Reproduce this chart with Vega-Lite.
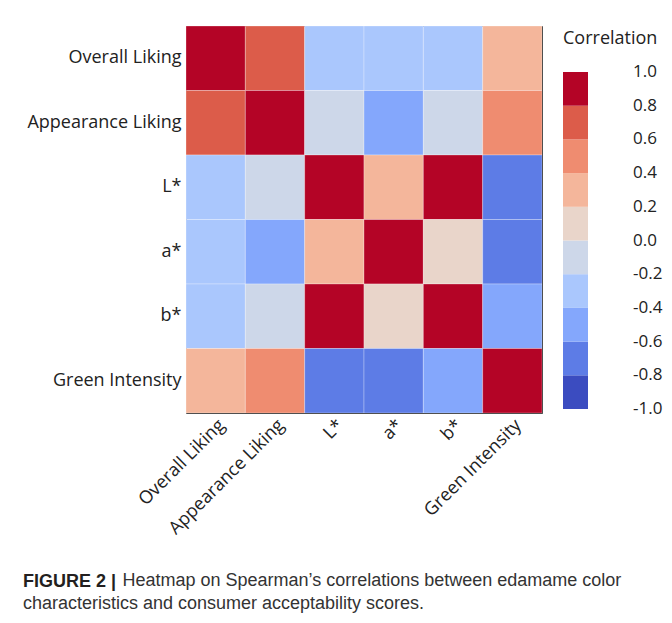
{
  "$schema": "https://vega.github.io/schema/vega-lite/v6.json",
  "background": "white",
  "padding": {"left": 22, "top": 25, "right": 5, "bottom": 5},
  "title": {
    "text": "Heatmap on Spearman’s correlations between edamame color",
    "orient": "bottom",
    "anchor": "start",
    "frame": "bounds",
    "font": "Liberation Sans",
    "fontSize": 18,
    "fontWeight": "normal",
    "color": "#333333",
    "offset": 0,
    "dx": 100,
    "dy": -41
  },
  "vconcat": [
    {
      "width": 356,
      "height": 387,
      "title": {
        "text": "FIGURE 2 |",
        "subtitle": "characteristics and consumer acceptability scores.",
        "orient": "bottom",
        "anchor": "start",
        "frame": "bounds",
        "font": "Liberation Sans",
        "fontSize": 18,
        "fontWeight": "bold",
        "color": "#231f20",
        "subtitleFont": "Liberation Sans",
        "subtitleFontSize": 18,
        "subtitleColor": "#333333",
        "subtitlePadding": 4,
        "offset": 35,
        "dx": -4
      },
      "data": {
        "values": [
          {"row": "Overall Liking", "col": "Overall Liking", "value": 1.0},
          {"row": "Overall Liking", "col": "Appearance Liking", "value": 0.7},
          {"row": "Overall Liking", "col": "L*", "value": -0.3},
          {"row": "Overall Liking", "col": "a*", "value": -0.3},
          {"row": "Overall Liking", "col": "b*", "value": -0.3},
          {"row": "Overall Liking", "col": "Green Intensity", "value": 0.3},
          {"row": "Appearance Liking", "col": "Overall Liking", "value": 0.7},
          {"row": "Appearance Liking", "col": "Appearance Liking", "value": 1.0},
          {"row": "Appearance Liking", "col": "L*", "value": -0.1},
          {"row": "Appearance Liking", "col": "a*", "value": -0.5},
          {"row": "Appearance Liking", "col": "b*", "value": -0.1},
          {"row": "Appearance Liking", "col": "Green Intensity", "value": 0.5},
          {"row": "L*", "col": "Overall Liking", "value": -0.3},
          {"row": "L*", "col": "Appearance Liking", "value": -0.1},
          {"row": "L*", "col": "L*", "value": 1.0},
          {"row": "L*", "col": "a*", "value": 0.3},
          {"row": "L*", "col": "b*", "value": 0.9},
          {"row": "L*", "col": "Green Intensity", "value": -0.7},
          {"row": "a*", "col": "Overall Liking", "value": -0.3},
          {"row": "a*", "col": "Appearance Liking", "value": -0.5},
          {"row": "a*", "col": "L*", "value": 0.3},
          {"row": "a*", "col": "a*", "value": 1.0},
          {"row": "a*", "col": "b*", "value": 0.1},
          {"row": "a*", "col": "Green Intensity", "value": -0.7},
          {"row": "b*", "col": "Overall Liking", "value": -0.3},
          {"row": "b*", "col": "Appearance Liking", "value": -0.1},
          {"row": "b*", "col": "L*", "value": 0.9},
          {"row": "b*", "col": "a*", "value": 0.1},
          {"row": "b*", "col": "b*", "value": 1.0},
          {"row": "b*", "col": "Green Intensity", "value": -0.5},
          {"row": "Green Intensity", "col": "Overall Liking", "value": 0.3},
          {"row": "Green Intensity", "col": "Appearance Liking", "value": 0.5},
          {"row": "Green Intensity", "col": "L*", "value": -0.7},
          {"row": "Green Intensity", "col": "a*", "value": -0.7},
          {"row": "Green Intensity", "col": "b*", "value": -0.5},
          {"row": "Green Intensity", "col": "Green Intensity", "value": 1.0}
        ]
      },
      "mark": {"type": "rect", "stroke": "#ffffff", "strokeOpacity": 0.35, "strokeWidth": 0.8},
      "encoding": {
        "x": {
          "field": "col",
          "type": "nominal",
          "sort": ["Overall Liking", "Appearance Liking", "L*", "a*", "b*", "Green Intensity"],
          "scale": {"paddingInner": 0, "paddingOuter": 0},
          "axis": {
            "title": null,
            "labelAngle": -45,
            "ticks": false,
            "domain": false,
            "labelPadding": 3,
            "labelFont": "Open Sans",
            "labelFontSize": 18,
            "labelColor": "#222222"
          }
        },
        "y": {
          "field": "row",
          "type": "nominal",
          "sort": ["Overall Liking", "Appearance Liking", "L*", "a*", "b*", "Green Intensity"],
          "scale": {"paddingInner": 0, "paddingOuter": 0},
          "axis": {
            "title": null,
            "ticks": false,
            "domain": false,
            "labelPadding": 5,
            "labelFont": "Open Sans",
            "labelFontSize": 18,
            "labelColor": "#222222"
          }
        },
        "color": {
          "field": "value",
          "type": "quantitative",
          "scale": {
            "type": "quantize",
            "domain": [-1, 1],
            "nice": false,
            "range": ["#3b4cc0", "#5d7ce6", "#84a7fc", "#aac7fd", "#cdd7e9", "#e9d5ca", "#f4b69b", "#ef8c70", "#dc5c4a", "#b40426"]
          },
          "legend": {
            "type": "gradient",
            "direction": "vertical",
            "title": "Correlation",
            "values": [-1, -0.8, -0.6, -0.4, -0.2, 0, 0.2, 0.4, 0.6, 0.8, 1],
            "gradientLength": 337,
            "gradientThickness": 25,
            "gradientStrokeWidth": 0,
            "labelAlign": "right",
            "labelBaseline": "middle",
            "labelOffset": 45,
            "labelOverlap": false,
            "labelExpr": "replace(format(datum.value, '.1f'), '−', '-')",
            "labelFont": "Open Sans",
            "labelFontSize": 17,
            "labelColor": "#222222",
            "titleFont": "Open Sans",
            "titleFontSize": 18,
            "titleFontWeight": "normal",
            "titleColor": "#222222",
            "titlePadding": 24,
            "offset": 16,
            "padding": 4,
            "encode": {
              "labels": {
                "update": {"baseline": {"value": "middle"}}
              }
            }
          }
        }
      }
    }
  ],
  "config": {
    "view": {"stroke": "#333333", "strokeWidth": 1}
  }
}
